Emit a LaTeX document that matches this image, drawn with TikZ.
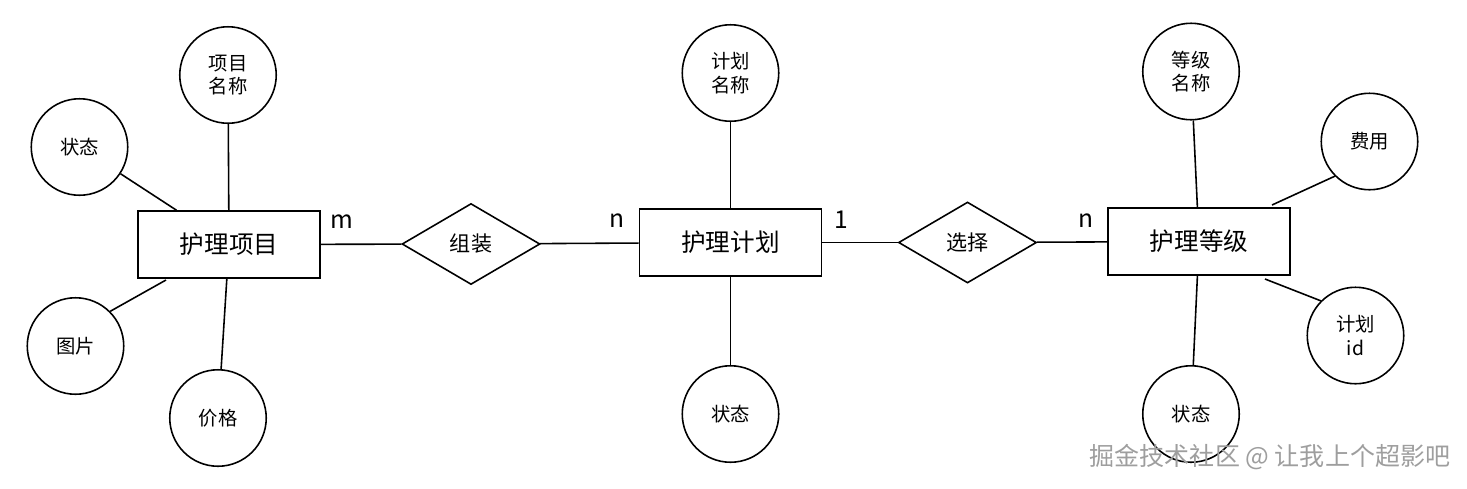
\documentclass[tikz,border=0pt]{standalone}
\usepackage{fontspec}
\setmainfont{Noto Sans CJK SC}
\usetikzlibrary{shapes.geometric}

\begin{document}
\begin{tikzpicture}[x=0.02cm,y=-0.02cm,line width=0.9pt,
		ent/.style={rectangle,draw,minimum width=3.64cm,minimum height=1.34cm,font=\fontsize{14}{16}\selectfont},
		att/.style={circle,draw,minimum size=1.93cm,inner sep=0pt,align=center,font=\fontsize{11}{13.5}\selectfont},
		rel/.style={diamond,draw,minimum width=2.76cm,minimum height=1.62cm,inner sep=0pt,font=\fontsize{12}{14}\selectfont},
		card/.style={font=\fontsize{14}{16}\selectfont}]
	
	\useasboundingbox (0,0) rectangle (1467,488);
	
	\node[ent] (X1) at (229,244.5) {护理项目};
	\node[att] (A1) at (228,75) {项目\\名称};
	\node[att] (A2) at (79.5,147) {状态};
	\node[att] (A3) at (75.5,346) {图片};
	\node[att] (A4) at (218,418) {价格};
	\coordinate (C1) at (166,280);
	
	\draw (A1) -- (X1);
	\draw (A2) -- (X1);
	\draw (A3.45) -- (C1);
	\draw (A4) -- (X1);
	
	\node[rel] (R1) at (471,244) {组装};
	\node[card] (M1) at (342,222) {m};
	\node[card] (N1) at (617,220.5) {n};
	
	\draw (X1) -- (R1);
	
	\node[ent] (X2) at (730.5,242.5) {护理计划};
	\node[att] (A5) at (730.5,73) {计划\\名称};
	\node[att] (A6) at (730.5,414) {状态};
	
	\draw (R1) -- (X2);
	\draw (A5) -- (X2);
	\draw (A6) -- (X2);
	
	\node[rel] (R2) at (967.5,242.5) {选择};
	\node[card] (O1) at (841,220) {1};
	\node[card] (N2) at (1086,220.5) {n};
	
	\draw (X2) -- (R2);
	
	\node[ent] (X3) at (1199,241.5) {护理等级};
	\node[att] (A7) at (1191,71.5) {等级\\名称};
	\node[att] (A8) at (1369.5,141.5) {费用};
	\node[att] (A9) at (1355.5,335.5) {计划\\id};
	\node[att] (A10) at (1191,414) {状态};
	\coordinate (C2) at (1272,205);
	\coordinate (C3) at (1265,279);
	
	\draw (R2) -- (X3);
	\draw (A7) -- (X3);
	\draw (A8.225) -- (C2);
	\draw (A9.135) -- (C3);
	\draw (A10) -- (X3);
	
	\node[text=black!38,font=\fontsize{14.25}{16}\selectfont] (W1) at (1270,457) {掘金技术社区 @ 让我上个超影吧};
	
\end{tikzpicture}
\end{document}
